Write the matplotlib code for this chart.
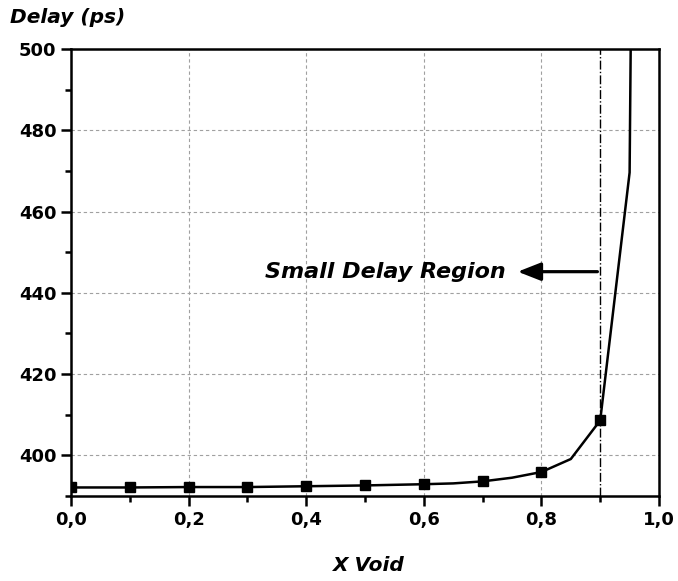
import numpy as np
import matplotlib.pyplot as plt
from matplotlib.ticker import MultipleLocator, FuncFormatter

# delay vs void fraction
x_void = [0.0, 0.1, 0.2, 0.3, 0.4, 0.5, 0.6, 0.65, 0.7, 0.75, 0.8, 0.85, 0.9, 0.95, 0.953]
delay = [392.1, 392.1, 392.2, 392.2, 392.4, 392.6, 392.9, 393.1, 393.6, 394.5, 395.9, 399.1, 408.6, 469.6, 520.0]
mark_x = [0.0, 0.1, 0.2, 0.3, 0.4, 0.5, 0.6, 0.7, 0.8, 0.9]
mark_y = [392.1, 392.1, 392.2, 392.2, 392.4, 392.6, 392.9, 393.6, 395.9, 408.6]
x_limit = 0.9

fig = plt.figure(figsize=(6.78, 5.81), dpi=100)
ax = fig.add_axes([0.1047, 0.1463, 0.8673, 0.7694])

ax.plot(x_void, delay, '-', color='black', linewidth=1.8)
ax.plot(mark_x, mark_y, 's', color='black', markersize=7)
ax.axvline(x_limit, color='black', linestyle='-.', linewidth=1.0)

ax.set_xlim(0, 1.0)
ax.set_ylim(390, 500)
ax.xaxis.set_major_locator(MultipleLocator(0.2))
ax.xaxis.set_minor_locator(MultipleLocator(0.1))
ax.yaxis.set_minor_locator(MultipleLocator(10))
ax.set_yticks([400, 420, 440, 460, 480, 500])
ax.xaxis.set_major_formatter(FuncFormatter(lambda v, p: ('%.1f' % v).replace('.', ',')))

ax.grid(True, which='major', linestyle=(0, (3, 2.5)), color='#a0a0a0', linewidth=0.8)
ax.tick_params(which='both', direction='out', width=1.8, labelsize=13)
ax.tick_params(which='major', length=7)
ax.tick_params(which='minor', length=4)
for lab in ax.get_xticklabels() + ax.get_yticklabels():
    lab.set_fontweight('bold')
for s in ax.spines.values():
    s.set_linewidth(1.8)

fig.text(0.015, 0.97, 'Delay (ps)', fontsize=14.5, fontweight='bold', style='italic', va='center', ha='left')
fig.text(0.542, 0.026, 'X Void', fontsize=14.5, fontweight='bold', style='italic', va='center', ha='center')

ax.annotate('', xy=(0.755, 445.2), xytext=(x_limit, 445.2),
            arrowprops=dict(arrowstyle='-|>,head_length=1.4,head_width=0.55', color='black', lw=2.3))
ax.text(0.74, 445.2, 'Small Delay Region', fontsize=16, fontweight='bold', style='italic',
        ha='right', va='center')

fig.savefig('out.png', dpi=100)
